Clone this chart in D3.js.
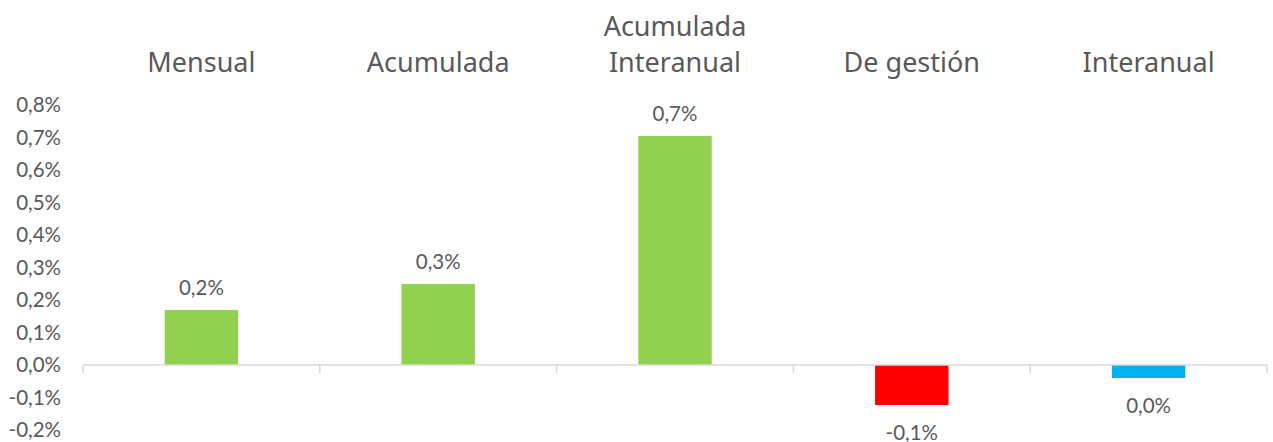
<!DOCTYPE html>
<html>
<head>
<meta charset="utf-8">
<script src="https://cdn.jsdelivr.net/npm/d3@7"></script>
<style>
  body { margin: 0; background: #fff; }
  text { fill: #595959; }
</style>
</head>
<body>
<script>
// chart data
var categories = [["Mensual"], ["Acumulada"], ["Acumulada", "Interanual"], ["De gestión"], ["Interanual"]];
var values = [0.169, 0.249, 0.705, -0.123, -0.04];
var valueLabels = ["0,2%", "0,3%", "0,7%", "-0,1%", "0,0%"];
var barColors = ["#92d050", "#92d050", "#92d050", "#ff0000", "#00b0f0"];
var yTicks = [-0.2, -0.1, 0, 0.1, 0.2, 0.3, 0.4, 0.5, 0.6, 0.7, 0.8];

var width = 1273, height = 442;
var margin = {top: 105, right: 6, bottom: 12, left: 83};

var svg = d3.select("body").append("svg")
    .attr("width", width)
    .attr("height", height);

var x = d3.scaleBand()
    .domain(d3.range(categories.length))
    .range([margin.left, width - margin.right])
    .paddingInner(0)
    .paddingOuter(0);

var y = d3.scaleLinear()
    .domain([-0.2, 0.8])
    .range([height - margin.bottom, margin.top]);

// y tick labels (no axis line, no gridlines)
svg.append("g").selectAll("text")
    .data(yTicks)
    .enter().append("text")
    .attr("x", 61)
    .attr("y", function(d) { return y(d); })
    .attr("dy", "0.35em")
    .attr("text-anchor", "end")
    .style("font-family", "Lato, 'Open Sans', sans-serif")
    .style("font-size", "20.5px")
    .text(function(d) { return d3.format(".1f")(d).replace(".", ",").replace("−", "-") + "%"; });

// bars
var bw = x.bandwidth() * 0.31;
svg.append("g").selectAll("rect")
    .data(values)
    .enter().append("rect")
    .attr("x", function(d, i) { return x(i) + (x.bandwidth() - bw) / 2; })
    .attr("y", function(d) { return y(Math.max(0, d)); })
    .attr("width", bw)
    .attr("height", function(d) { return Math.abs(y(d) - y(0)); })
    .attr("fill", function(d, i) { return barColors[i]; });

// zero axis line with category ticks
var axis = svg.append("g").attr("class", "x axis");
axis.append("line")
    .attr("x1", x.range()[0]).attr("x2", x.range()[1])
    .attr("y1", y(0)).attr("y2", y(0))
    .attr("stroke", "#d9d9d9").attr("stroke-width", 1.5);
axis.selectAll("line.tick")
    .data(d3.range(categories.length + 1))
    .enter().append("line").attr("class", "tick")
    .attr("x1", function(i) { return x.range()[0] + i * x.step(); })
    .attr("x2", function(i) { return x.range()[0] + i * x.step(); })
    .attr("y1", y(0)).attr("y2", y(0) + 8)
    .attr("stroke", "#d9d9d9").attr("stroke-width", 1.5);

// value labels
svg.append("g").selectAll("text")
    .data(values)
    .enter().append("text")
    .attr("x", function(d, i) { return x(i) + x.bandwidth() / 2; })
    .attr("y", function(d) { return d >= 0 ? y(d) - 22 : y(d) + 28; })
    .attr("dy", "0.35em")
    .attr("text-anchor", "middle")
    .style("font-family", "Lato, 'Open Sans', sans-serif")
    .style("font-size", "20.5px")
    .text(function(d, i) { return valueLabels[i]; });

// category headers on top
var heads = svg.append("g").selectAll("text")
    .data(categories)
    .enter().append("text")
    .attr("x", function(d, i) { return x(i) + x.bandwidth() / 2; })
    .attr("text-anchor", "middle")
    .style("font-family", "'Noto Sans', sans-serif")
    .style("font-size", "27px");
heads.each(function(lines) {
    var t = d3.select(this);
    lines.forEach(function(l, k) {
        t.append("tspan")
            .attr("x", t.attr("x"))
            .attr("y", 72 - (lines.length - 1 - k) * 36)
            .text(l);
    });
});
</script>
</body>
</html>
